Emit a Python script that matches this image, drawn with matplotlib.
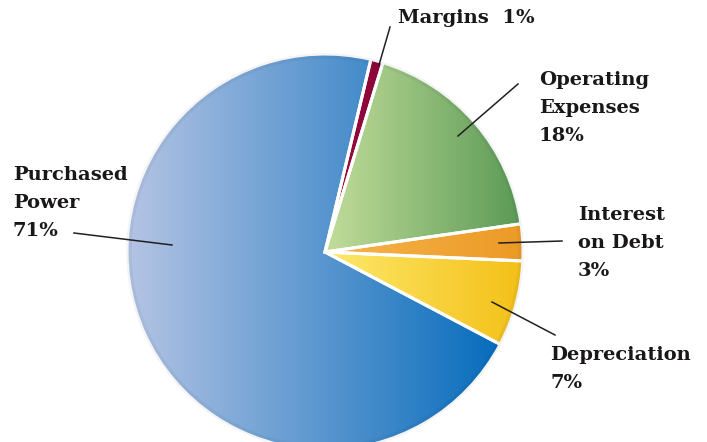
import numpy as np
import matplotlib
matplotlib.use("Agg")
import matplotlib.pyplot as plt
from matplotlib.colors import LinearSegmentedColormap

# slice data, in drawing order (clockwise from the top)
labels = ["Margins", "Operating\nExpenses", "Interest\non Debt", "Depreciation", "Purchased\nPower"]
percents = [1, 18, 3, 7, 71]
# left -> right colour of each slice's gradient
grad_left = ["#9c0c40", "#c2dd9a", "#f6b44c", "#fde96c", "#b6c5e4"]
grad_right = ["#8a0636", "#5b9a56", "#ec9a26", "#f4c018", "#066cbc"]

W, H = 707, 442
fig = plt.figure(figsize=(W / 100, H / 100), dpi=100)
ax = fig.add_axes([0, 0, 1, 1])

cx, cy, r = 325, H - 252, 198

wedges, _ = ax.pie(percents, center=(cx, cy), radius=r, startangle=76.6,
                   counterclock=False, frame=True,
                   wedgeprops=dict(edgecolor="white", linewidth=2.2))

grad = np.linspace(0, 1, 256).reshape(1, -1)
for w, c0, c1 in zip(wedges, grad_left, grad_right):
    verts = w.get_patch_transform().transform(w.get_path().vertices)
    x0, x1 = verts[:, 0].min(), verts[:, 0].max()
    y0, y1 = verts[:, 1].min(), verts[:, 1].max()
    cmap = LinearSegmentedColormap.from_list("g", [c0, c1])
    im = ax.imshow(grad, cmap=cmap, extent=(x0, x1, y0, y1), aspect="auto",
                   interpolation="bicubic", zorder=1)
    im.set_clip_path(w)
    w.set_facecolor("none")
    w.set_zorder(2)

# soft darker rim
rim = plt.Circle((cx, cy), r - 2, fill=False, edgecolor="#1a2a40",
                 linewidth=4, alpha=0.05, zorder=2)
ax.add_patch(rim)

ax.set_xlim(0, W)
ax.set_ylim(0, H)
ax.set_aspect("equal")
ax.axis("off")

txt = dict(family="DejaVu Serif", weight="bold", fontsize=14,
           color="#1a1718", ha="left", va="top", linespacing=1.7)

def Y(y):
    return H - y

# label text positions (image pixels, top-left)
ax.text(398, Y(9), labels[0] + "  " + str(percents[0]) + "%", **txt)
ax.text(539, Y(71), labels[1] + "\n" + str(percents[1]) + "%", **txt)
ax.text(578, Y(206), labels[2] + "\n" + str(percents[2]) + "%", **txt)
ax.text(550, Y(346), labels[3] + "\n" + str(percents[3]) + "%", **txt)
ax.text(13, Y(166), labels[4] + "\n" + str(percents[4]) + "%", **txt)

# leader lines
leaders = [((379, 65), (390, 27)),
           ((458, 136), (518, 84)),
           ((499, 243), (562, 241)),
           ((492, 302), (555, 335)),
           ((74, 233), (172, 245))]
for (xa, ya), (xb, yb) in leaders:
    ax.plot([xa, xb], [Y(ya), Y(yb)], color="#231f20", lw=1.1, zorder=3)

fig.savefig("out.png", dpi=100)
